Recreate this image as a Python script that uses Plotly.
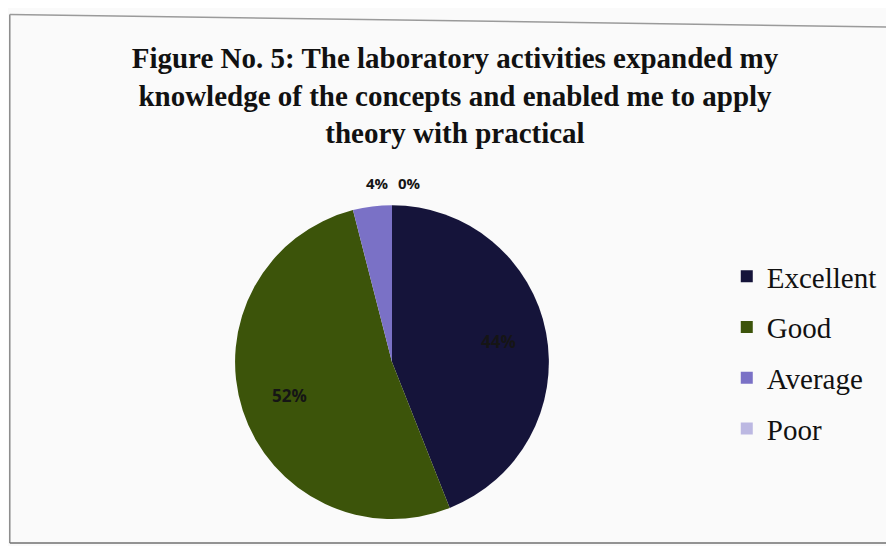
import math
import plotly.graph_objects as go

categories = ["Excellent", "Good", "Average", "Poor"]
values = [44, 52, 4, 0]
pct_labels = ["44%", "52%", "4%", "0%"]
colors = ["#15143a", "#3c540a", "#7a71c6", "#bcb8e2"]

title_text = ("<b>Figure No. 5: The laboratory activities expanded my<br>"
              "knowledge of the concepts and enabled me to apply<br>"
              "theory with practical</b>")

W, H = 894, 546
dom_x = [0.254, 0.605]
dom_y = [0.064, 0.639]

fig = go.Figure()
fig.add_trace(go.Pie(
    labels=categories,
    values=values,
    textinfo="none",
    marker=dict(colors=colors, line=dict(width=0)),
    sort=False,
    direction="clockwise",
    rotation=0,
    domain=dict(x=dom_x, y=dom_y),
    showlegend=False,
))

# legend entries as dummy traces (for spacing control)
for cat, col in zip(categories, colors):
    fig.add_trace(go.Scatter(
        x=[None], y=[None], mode="markers", name=cat, legendgroup=cat,
        marker=dict(symbol="square", size=12, color=col),
    ))

# data labels placed at each slice's mid-angle
total = sum(values)
cx = (dom_x[0] + dom_x[1]) / 2 * W
cy = (dom_y[0] + dom_y[1]) / 2 * H
R = (dom_x[1] - dom_x[0]) * W / 2
ann = []
cum = 0
outside_k = 0
for lab, v in zip(pct_labels, values):
    frac = v / total
    mid = (cum + frac / 2) * 2 * math.pi
    cum += frac
    if frac >= 0.1:
        r = 0.69 * R
        px = cx + r * math.sin(mid)
        py = cy + r * math.cos(mid)
        fs = 17
    else:
        px = cx - 14 + 32 * outside_k
        py = cy + R + 22
        outside_k += 1
        fs = 15
    ann.append(dict(text=lab, xref="paper", yref="paper", x=px / W, y=py / H,
                    xanchor="center", yanchor="middle", showarrow=False,
                    font=dict(family="Open Sans", size=fs, color="#151515", weight="bold")))

fig.update_layout(
    width=W, height=H,
    margin=dict(l=0, r=0, t=0, b=0),
    paper_bgcolor="#fafafa",
    plot_bgcolor="rgba(0,0,0,0)",
    xaxis=dict(visible=False),
    yaxis=dict(visible=False),
    title=dict(text=title_text, x=0.5, xanchor="center", y=0.89, yanchor="top",
               font=dict(family="Liberation Serif", size=29, color="#111111")),
    legend=dict(x=0.804, y=0.555, xanchor="left", yanchor="top",
                font=dict(family="Liberation Serif", size=29, color="#111111"),
                bgcolor="rgba(0,0,0,0)", tracegroupgap=10, itemwidth=30),
    annotations=ann,
    shapes=[
        dict(type="line", xref="paper", yref="paper", x0=0.002, y0=0.02, x1=0.002, y1=0.988,
             line=dict(color="#8a8a8a", width=1.5)),
        dict(type="line", xref="paper", yref="paper", x0=0.002, y0=0.988, x1=1.0, y1=0.965,
             line=dict(color="#9a9a9a", width=1.5)),
        dict(type="line", xref="paper", yref="paper", x0=0.002, y0=0.02, x1=1.0, y1=0.02,
             line=dict(color="#707070", width=1.5)),
    ],
)

fig.write_html("out.html")
